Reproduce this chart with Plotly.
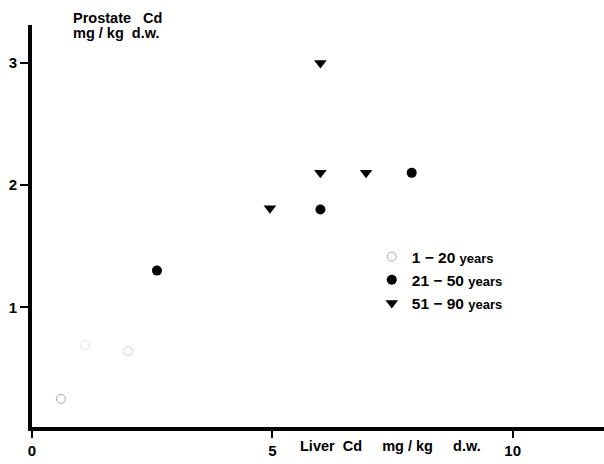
import plotly.graph_objects as go

# 1-20 years (open circles, faded in the scan)
young_liver = [0.6, 1.1, 2.0]
young_prostate = [0.25, 0.69, 0.64]
young_colors = ["#a8a8a8", "#e4e4e4", "#d4d4d4"]

# 21-50 years (filled circles)
mid_liver = [2.6, 6.0, 7.9]
mid_prostate = [1.3, 1.8, 2.1]

# 51-90 years (filled down-triangles)
old_liver = [4.95, 6.0, 6.0, 6.95]
old_prostate = [1.81, 2.1, 3.0, 2.1]

x_ticks = [0, 5, 10]
y_ticks = [1, 2, 3]

FONT = "Liberation Sans, Arial, sans-serif"


def legend_name(rng):
    return f"<b>{rng} <span style='font-size:13px'>years</span></b>"


fig = go.Figure()
fig.add_trace(go.Scatter(
    x=young_liver, y=young_prostate, mode="markers",
    name=legend_name("1 − 20"),
    marker=dict(symbol="circle-open", size=9, color=young_colors, line=dict(width=1)),
))
fig.add_trace(go.Scatter(
    x=mid_liver, y=mid_prostate, mode="markers",
    name=legend_name("21 − 50"),
    marker=dict(symbol="circle", size=10, color="black"),
))
fig.add_trace(go.Scatter(
    x=old_liver, y=old_prostate, mode="markers",
    name=legend_name("51 − 90"),
    marker=dict(symbol="triangle-down", size=11, color="black"),
))

fig.update_layout(
    width=604, height=464,
    margin=dict(l=32, r=0, t=25, b=37, autoexpand=False),
    paper_bgcolor="white", plot_bgcolor="white",
    font=dict(family=FONT, size=15, color="black"),
    showlegend=True,
    legend=dict(
        x=0.594, y=0.465, xanchor="left", yanchor="top",
        bgcolor="rgba(0,0,0,0)", font=dict(family=FONT, size=15.5, color="black"),
        itemwidth=30,
    ),
    xaxis=dict(
        range=[0, 11.9], showgrid=False, zeroline=False,
        showline=True, linewidth=4, linecolor="black",
        tickvals=x_ticks, ticktext=[f"<b>{v}</b>" for v in x_ticks],
        ticks="outside", ticklen=7, tickwidth=2, tickcolor="black",
        tickfont=dict(family=FONT, size=15, color="black"),
    ),
    yaxis=dict(
        range=[0.02, 3.31], showgrid=False, zeroline=False,
        showline=True, linewidth=4, linecolor="black",
        tickvals=y_ticks, ticktext=[f"<b>{v}</b>" for v in y_ticks],
        ticks="outside", ticklen=8, tickwidth=2, tickcolor="black",
        tickfont=dict(family=FONT, size=15, color="black"),
    ),
    annotations=[
        dict(text="<b>Prostate   Cd</b>", xref="paper", yref="paper",
             x=0.068, y=1.0174, xanchor="left", yanchor="middle", showarrow=False,
             font=dict(family=FONT, size=14.5, color="black")),
        dict(text="<b>mg / kg  d.w.</b>", xref="paper", yref="paper",
             x=0.068, y=0.980, xanchor="left", yanchor="middle", showarrow=False,
             font=dict(family=FONT, size=14.5, color="black")),
        dict(text="<b>Liver  Cd     mg / kg     d.w.</b>", xref="paper", yref="paper",
             x=0.465, y=-0.047, xanchor="left", yanchor="middle", showarrow=False,
             font=dict(family=FONT, size=14.5, color="black")),
    ],
)

fig.write_html("out.html", config={"displayModeBar": False},
               post_script="document.body.style.margin='0';")
